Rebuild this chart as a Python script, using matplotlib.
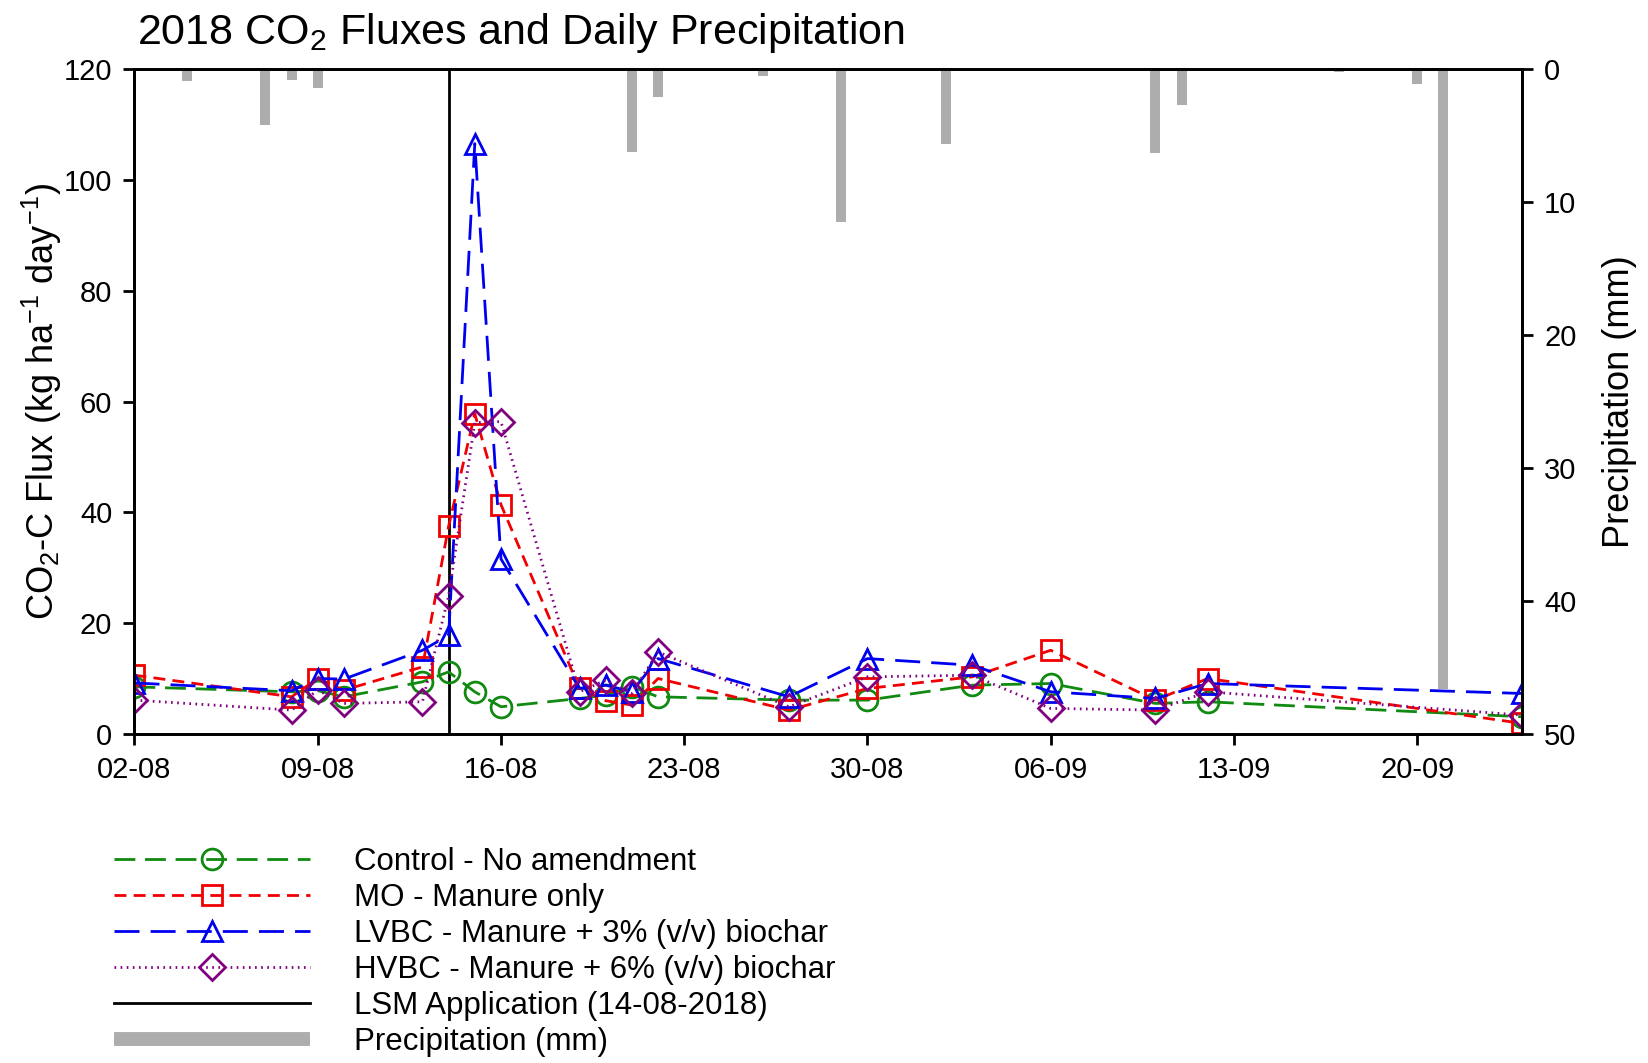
import numpy as np
import pandas as pd
import matplotlib
matplotlib.use("Agg")
import matplotlib.pyplot as plt
import matplotlib.dates as mdates
from matplotlib.lines import Line2D

plt.rcParams['font.family'] = ['Liberation Sans', 'DejaVu Sans']
plt.rcParams['mathtext.fontset'] = 'custom'
plt.rcParams['mathtext.rm'] = 'Liberation Sans'
plt.rcParams['mathtext.it'] = 'Liberation Sans:italic'
plt.rcParams['mathtext.bf'] = 'Liberation Sans:bold'

# sampling dates and CO2-C fluxes (kg ha-1 day-1)
dates = pd.to_datetime(["2018-08-02", "2018-08-08", "2018-08-09", "2018-08-10",
                        "2018-08-13", "2018-08-14", "2018-08-15", "2018-08-16",
                        "2018-08-19", "2018-08-20", "2018-08-21", "2018-08-22",
                        "2018-08-27", "2018-08-30", "2018-09-03", "2018-09-06",
                        "2018-09-10", "2018-09-12", "2018-09-24"])
control = [8.5, 7.6, 7.8, 6.7, 9.4, 11.2, 7.6, 4.9, 6.4, 7.0, 8.5, 6.7,
           6.1, 6.1, 8.8, 9.1, 5.5, 5.8, 3.1]
mo = [10.6, 6.7, 10.0, 7.9, 12.1, 37.5, 57.8, 41.4, 8.2, 6.0, 5.2, 10.0,
      4.3, 8.2, 10.3, 15.1, 6.1, 10.0, 1.9]
lvbc = [9.2, 7.8, 10.0, 9.9, 15.1, 17.8, 106.6, 31.6, 8.2, 8.8, 7.6, 13.6,
        6.7, 13.6, 12.4, 7.6, 6.4, 9.1, 7.3]
hvbc = [6.1, 4.3, 7.9, 5.5, 5.8, 24.9, 56.2, 56.4, 7.6, 9.7, 7.3, 14.8,
        4.9, 10.3, 10.6, 4.6, 4.3, 7.6, 3.4]

# daily precipitation (mm)
rain_dates = pd.to_datetime(["2018-08-04", "2018-08-06", "2018-08-07", "2018-08-08",
                             "2018-08-09", "2018-08-15", "2018-08-21", "2018-08-22",
                             "2018-08-26", "2018-08-29", "2018-09-02", "2018-09-10",
                             "2018-09-11", "2018-09-17", "2018-09-20", "2018-09-21"])
rain = [0.9, 0.1, 4.2, 0.8, 1.4, 0.1, 6.2, 2.1, 0.5, 11.5, 5.6, 6.3, 2.7, 0.2, 1.1, 46.6]

lsm_date = pd.Timestamp("2018-08-14")
tick_dates = pd.date_range("2018-08-02", periods=8, freq="7D")

fig = plt.figure(figsize=(16.48, 10.63), dpi=100)
ax = fig.add_axes([0.0816, 0.3096, 0.8419, 0.6251])
ax2 = ax.twinx()

ax2.bar(rain_dates, rain, width=0.38, color='#adadad', zorder=1)
ax2.set_ylim(50, 0)
ax2.set_yticks([0, 10, 20, 30, 40, 50])
ax2.set_ylabel("Precipitation (mm)", fontsize=26, labelpad=18)

ax.set_zorder(ax2.get_zorder() + 1)
ax.patch.set_visible(False)

ax.axvline(lsm_date, color='black', lw=2)

lw = 2.0
ax.plot(dates, control, color='#108a10', ls=(0, (7.5, 3.5)), lw=lw, marker='o',
        ms=15, mfc='none', mew=2)
ax.plot(dates, mo, color='#f00000', ls=(0, (4.3, 2.6)), lw=lw, marker='s',
        ms=14, mfc='none', mew=2)
ax.plot(dates, lvbc, color='#0000f0', ls=(0, (9, 4)), lw=lw, marker='^',
        ms=15, mfc='none', mew=2)
ax.plot(dates, hvbc, color='#800080', ls=(0, (0.6, 1.6)), lw=lw, marker='D',
        ms=13, mfc='none', mew=2)

ax.set_xlim(pd.Timestamp("2018-08-02"), pd.Timestamp("2018-09-24"))
ax.set_ylim(0, 120)
ax.set_yticks([0, 20, 40, 60, 80, 100, 120])
ax.set_xticks(tick_dates)
ax.xaxis.set_major_formatter(mdates.DateFormatter('%d-%m'))
ax.set_ylabel(r'CO$_2$-C Flux (kg ha$^{-1}$ day$^{-1}$)', fontsize=26, labelpad=0)

for a in (ax, ax2):
    a.tick_params(direction='out', length=8, width=2, labelsize=21, pad=8)
    for s in a.spines.values():
        s.set_linewidth(2)

fig.text(0.083, 0.9586, r'2018 CO$_2$ Fluxes and Daily Precipitation', fontsize=31,
         ha='left', va='baseline')

handles = [
    Line2D([], [], color='#108a10', ls=(0, (7.5, 3.5)), lw=lw, marker='o', ms=15, mfc='none', mew=2),
    Line2D([], [], color='#f00000', ls=(0, (4.3, 2.6)), lw=lw, marker='s', ms=14, mfc='none', mew=2),
    Line2D([], [], color='#0000f0', ls=(0, (9, 4)), lw=lw, marker='^', ms=15, mfc='none', mew=2),
    Line2D([], [], color='#800080', ls=(0, (0.6, 1.6)), lw=lw, marker='D', ms=13, mfc='none', mew=2),
    Line2D([], [], color='black', lw=2),
    Line2D([], [], color='#adadad', lw=10, solid_capstyle='butt'),
]
labels = ["Control - No amendment", "MO - Manure only",
          "LVBC - Manure + 3% (v/v) biochar", "HVBC - Manure + 6% (v/v) biochar",
          "LSM Application (14-08-2018)", "Precipitation (mm)"]
fig.legend(handles, labels, loc='upper left', bbox_to_anchor=(0.0689, 0.203),
           frameon=False, fontsize=22.5, handlelength=6.3, handletextpad=1.4,
           labelspacing=0.19, borderpad=0, borderaxespad=0, numpoints=1)

fig.savefig("out.png", dpi=100)
